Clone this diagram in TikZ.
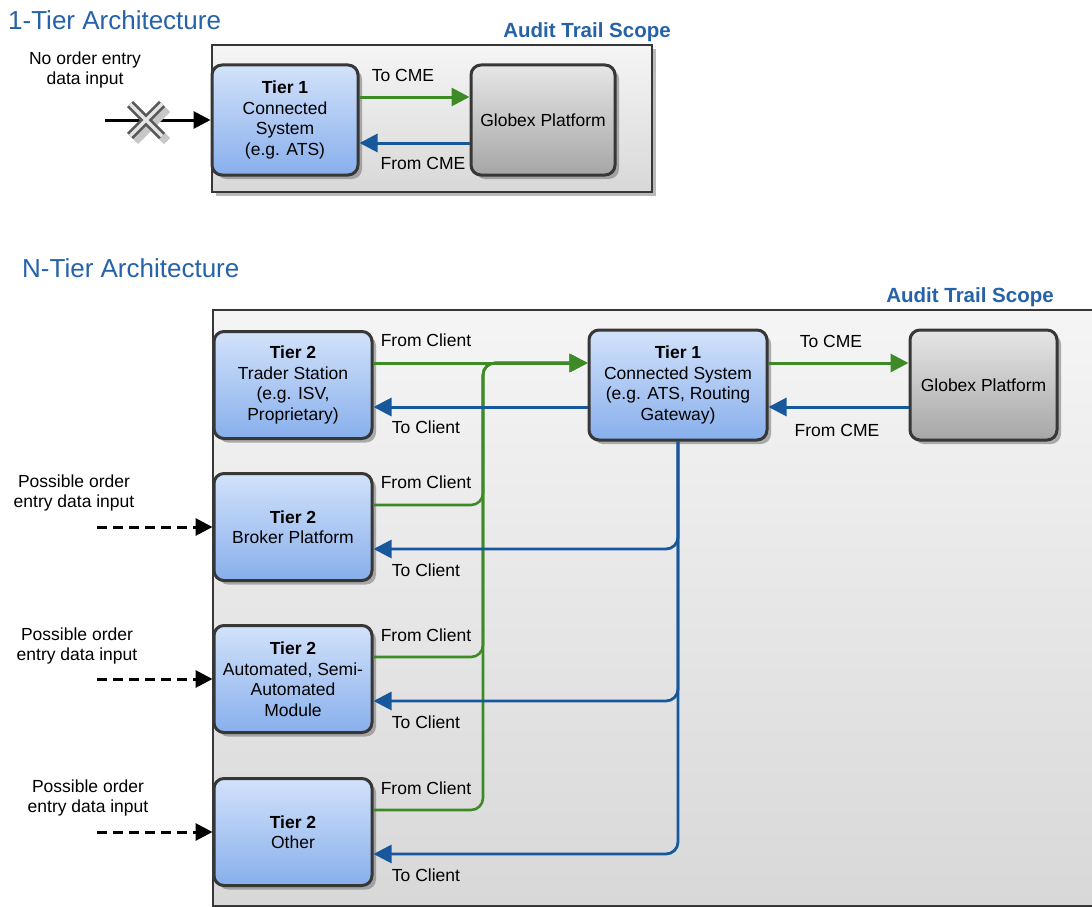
\documentclass[tikz,border=0pt]{standalone}
\usepackage{fontspec}
\setmainfont{Liberation Sans}
\usetikzlibrary{arrows.meta,shadows}

\definecolor{tiertop}{RGB}{210,226,250}
\definecolor{tierbot}{RGB}{136,175,236}
\definecolor{gxtop}{RGB}{230,230,230}
\definecolor{gxbot}{RGB}{166,166,166}
\definecolor{scopetop}{RGB}{245,245,245}
\definecolor{scopebot}{RGB}{216,216,216}
\definecolor{cmegreen}{RGB}{62,138,38}
\definecolor{cmeblue}{RGB}{22,88,155}
\definecolor{headblue}{RGB}{38,98,168}
\definecolor{edgegray}{RGB}{55,55,55}

\tikzset{
  every node/.style={font=\fontsize{17.5}{20.5}\selectfont},
  scopebox/.style={draw=edgegray, line width=2.2pt, top color=scopetop, bottom color=scopebot,
    drop shadow={shadow xshift=4pt, shadow yshift=-4pt, fill=black!45, opacity=0.6}},
  tierbox/.style={draw=edgegray, line width=3pt, rounded corners=10pt, top color=tiertop,
    bottom color=tierbot, align=center, inner sep=2pt,
    drop shadow={shadow xshift=4pt, shadow yshift=-4pt, fill=black!55, opacity=0.55}},
  globexbox/.style={tierbox, top color=gxtop, bottom color=gxbot},
  tocme/.style={draw=cmegreen, line width=3pt, -{Triangle[length=18pt,width=18pt]}},
  fromcme/.style={tocme, draw=cmeblue},
  fromclient/.style={tocme},
  toclient/.style={fromcme},
  inarrow/.style={draw=black, line width=3pt, -{Triangle[length=17pt,width=17pt]}},
  posin/.style={inarrow, dash pattern=on 10pt off 6pt},
  headtext/.style={anchor=west, inner sep=0pt, text=headblue, font=\fontsize{26}{30}\selectfont},
  scopetext/.style={inner sep=0pt, text=headblue, font=\bfseries\fontsize{20.5}{24}\selectfont}
}

\begin{document}
\begin{tikzpicture}[x=1pt,y=-1pt]
\useasboundingbox (0,0) rectangle (1092,907);

\node[headtext] (titleA) at (8,20) {1-Tier Architecture};
\node[scopetext] (scopeLblA) at (587,32) {Audit Trail Scope};
\node[scopebox, minimum width=440, minimum height=147] (scopeA) at (432,118.5) {};

\node[tierbox, minimum width=146, minimum height=110] (tA) at (285,120) {\textbf{Tier 1}\\Connected\\System\\(e.g. ATS)};
\node[globexbox, minimum width=144, minimum height=110] (gA) at (543,120) {Globex Platform};

\draw[tocme] ([yshift=23pt]tA.east) -- ([yshift=23pt]gA.west);
\draw[fromcme] ([yshift=-23pt]gA.west) -- ([yshift=-23pt]tA.east);
\node (toA) at (403,75) {To CME};
\node (fromA) at (423,163) {From CME};

\node[align=center] (noinLbl) at (85,70) {No order entry\\data input};
\coordinate (noin) at (105,120);
\draw[inarrow] (noin) -- (tA.west);
\draw[line width=2.5pt, draw=black!22, double=black!22, double distance=3.5pt] (135,109) -- (167,141) (167,109) -- (135,141);
\draw[line width=2.5pt, draw=black!65, double=black!10, double distance=3.5pt] (130,104) -- (162,136) (162,104) -- (130,136);

\node[headtext] (titleB) at (22,268) {N-Tier Architecture};
\node[scopetext] (scopeLblB) at (970,297) {Audit Trail Scope};
\node[scopebox, minimum width=887, minimum height=596] (scopeB) at (656.5,608) {};

\node[tierbox, minimum width=158, minimum height=107] (ttwoA) at (293,385) {\textbf{Tier 2}\\Trader Station\\(e.g. ISV,\\Proprietary)};
\node[tierbox, minimum width=158, minimum height=107] (ttwoB) at (293,527) {\textbf{Tier 2}\\Broker Platform};
\node[tierbox, minimum width=158, minimum height=107] (ttwoC) at (293,679) {\textbf{Tier 2}\\Automated, Semi-\\Automated\\Module};
\node[tierbox, minimum width=158, minimum height=107] (ttwoD) at (293,832) {\textbf{Tier 2}\\Other};
\node[tierbox, minimum width=178, minimum height=110] (tone) at (678,385) {\textbf{Tier 1}\\Connected System\\(e.g. ATS, Routing\\Gateway)};
\node[globexbox, minimum width=147, minimum height=110] (gB) at (983.5,385) {Globex Platform};

\draw[tocme] ([yshift=22pt]tone.east) -- ([yshift=22pt]gB.west);
\draw[fromcme] ([yshift=-22pt]gB.west) -- ([yshift=-22pt]tone.east);
\node (toB) at (831,341) {To CME};
\node (fromB) at (837,430) {From CME};

\coordinate (gtrunk) at (483,363);
\foreach \t in {ttwoB,ttwoC,ttwoD}
  \draw[fromclient, line width=2.6pt, rounded corners=12pt] ([yshift=22pt]\t.east) -| (gtrunk) -- ([yshift=22pt]tone.west);
\foreach \t in {ttwoB,ttwoC,ttwoD}
  \draw[toclient, line width=2.8pt, rounded corners=12pt] (tone.south) |- ([yshift=-22pt]\t.east);
\draw[fromclient] ([yshift=22pt]ttwoA.east) -- ([yshift=22pt]tone.west);
\draw[toclient] ([yshift=-22pt]tone.west) -- ([yshift=-22pt]ttwoA.east);

\node (fcA) at (426,340) {From Client};
\node (fcB) at (426,482) {From Client};
\node (fcC) at (426,635) {From Client};
\node (fcD) at (426,788) {From Client};
\node (tcA) at (426,427) {To Client};
\node (tcB) at (426,570) {To Client};
\node (tcC) at (426,722) {To Client};
\node (tcD) at (426,875) {To Client};

\node[align=center] (posLblB) at (74,493) {Possible order\\entry data input};
\node[align=center] (posLblC) at (77,646) {Possible order\\entry data input};
\node[align=center] (posLblD) at (88,798) {Possible order\\entry data input};
\coordinate (inB) at (97,527);
\coordinate (inC) at (97,679);
\coordinate (inD) at (97,832);
\draw[posin] (inB) -- (ttwoB.west);
\draw[posin] (inC) -- (ttwoC.west);
\draw[posin] (inD) -- (ttwoD.west);

\end{tikzpicture}
\end{document}
